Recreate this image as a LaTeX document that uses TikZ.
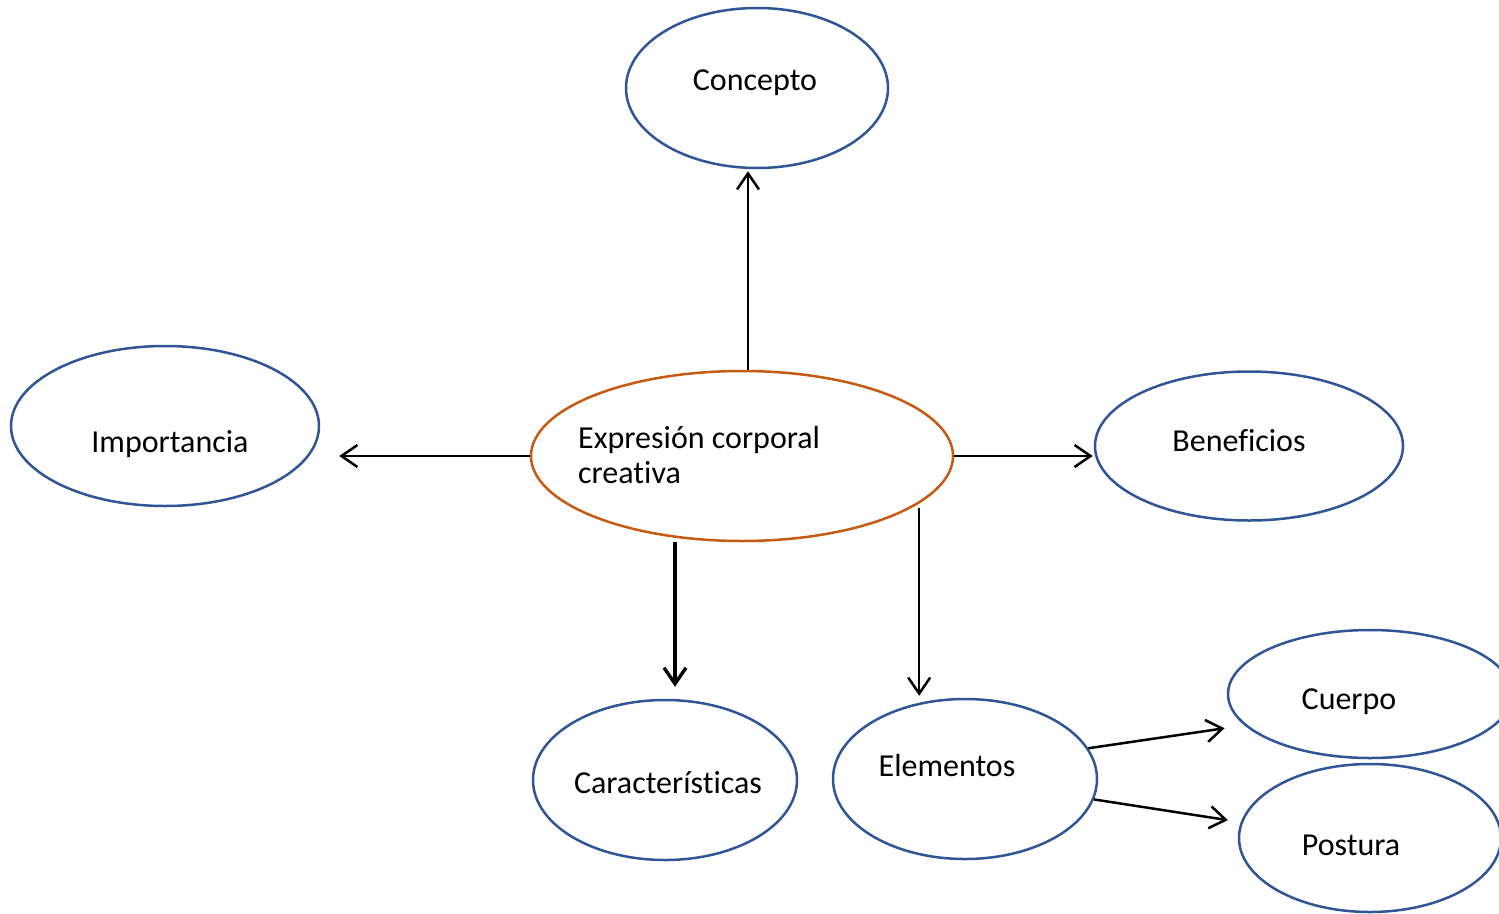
\documentclass[tikz,border=0pt]{standalone}
\usepackage{fontspec}
\setmainfont[Ligatures=NoCommon]{Carlito}
\usepackage{tikz}
\usetikzlibrary{arrows.meta, shapes.geometric}
\definecolor{azul}{HTML}{2F5597}
\definecolor{naranja}{HTML}{C55A11}

\begin{document}
\begin{tikzpicture}
[x=1pt, y=-1pt,
 elip/.style={ellipse, draw=azul, line width=2.5pt, inner sep=0pt},
 cent/.style={ellipse, draw=naranja, line width=2.5pt, inner sep=0pt},
 txt/.style={font=\fontsize{32}{35}\selectfont, inner sep=0pt},
 ->/.style={line width=2.5pt, arrows={-{Straight Barb[length=16pt,width=22pt]}}}]
\useasboundingbox (0,0) rectangle (1499,913);
\node[cent, minimum width=422pt, minimum height=170pt] (cen) at (742,456) {};
\node[elip, minimum width=262pt, minimum height=160pt] (con) at (757,88) {};
\node[elip, minimum width=308pt, minimum height=160pt] (imp) at (165,426) {};
\node[elip, minimum width=308pt, minimum height=149pt] (ben) at (1249,446) {};
\node[elip, minimum width=264pt, minimum height=160pt] (car) at (665,780) {};
\node[elip, minimum width=264pt, minimum height=160pt] (ele) at (965,779) {};
\node[elip, minimum width=284pt, minimum height=128pt] (cue) at (1370,694) {};
\node[elip, minimum width=262pt, minimum height=148pt] (pos) at (1370,838) {};
\node[txt, anchor=west, align=left] (tCen) at (578,455) {Expresión corporal\\creativa};
\node[txt] (tCon) at (755,83) {Concepto};
\node[txt] (tImp) at (170,444) {Importancia};
\node[txt] (tBen) at (1239,441) {Beneficios};
\node[txt] (tCar) at (668,783) {Características};
\node[txt] (tEle) at (947,765) {Elementos};
\node[txt] (tCue) at (1349,702) {Cuerpo};
\node[txt] (tPos) at (1351,845) {Postura};
\draw[->, shorten >=2pt] ([xshift=6pt]cen.north) -- ([xshift=6pt]cen.north |- con.south);
\draw[->, shorten >=19pt] (cen.west) -- (cen.west -| imp.east);
\draw[->, shorten >=1pt] (cen.east) -- (cen.east -| ben.west);
\draw[->, line width=3.4pt, shorten >=12pt] ([xshift=-67pt]cen.south) -- ([xshift=-67pt]cen.south |- car.north);
\draw[->, shorten <=5pt, shorten >=2pt] (cen.-15.2) -- (cen.-15.2 |- ele.north);
\draw[->, shorten >=20pt] (ele.14) -- (cue.194);
\draw[->, shorten >=13pt] (ele.-9) -- (pos.173);
\end{tikzpicture}
\end{document}
